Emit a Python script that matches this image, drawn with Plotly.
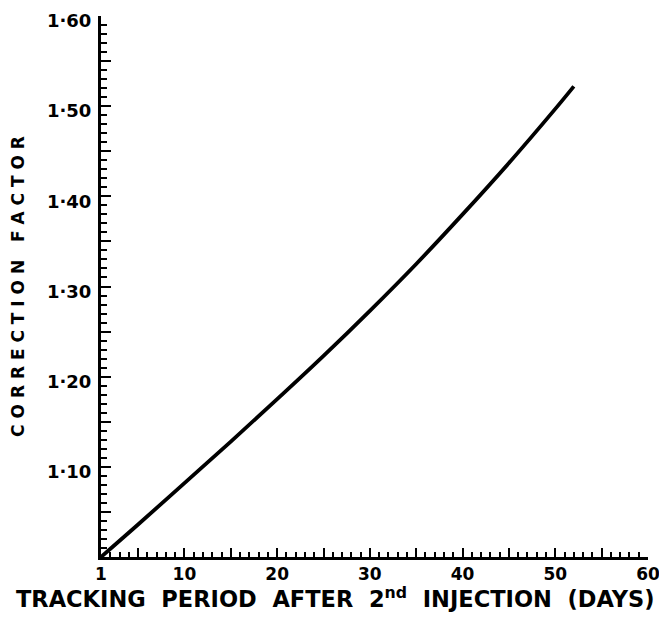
import plotly.graph_objects as go

# Data
days = [1, 5, 10, 15, 20, 25, 30, 35, 40, 45, 50, 52]
correction_factor = [1.000, 1.036, 1.082, 1.128, 1.175, 1.223, 1.273, 1.325, 1.380, 1.437, 1.497, 1.522]

x_tick_vals = [1, 5, 10, 15, 20, 25, 30, 35, 40, 45, 50, 55, 60]
x_tick_text = ["1", "", "10", "", "20", "", "30", "", "40", "", "50", "", "60"]
y_tick_vals = [1.05, 1.10, 1.15, 1.20, 1.25, 1.30, 1.35, 1.40, 1.45, 1.50, 1.55, 1.60]
y_tick_text = ["", "1·10", "", "1·20", "", "1·30", "", "1·40", "", "1·50", "", "1·60"]
x_title = "TRACKING  PERIOD  AFTER  2<sup>nd</sup>  INJECTION  (DAYS)"
y_title = "C O R R E C T I O N   F A C T O R"

FONT = "DejaVu Sans"

fig = go.Figure()
fig.add_trace(go.Scatter(
    x=days, y=correction_factor, mode="lines",
    line=dict(color="black", width=3.8, shape="spline", smoothing=1.0),
    hoverinfo="skip", showlegend=False,
))

# the page body adds an 8px offset, so the figure is 8px smaller and margins compensate
fig.update_layout(
    width=659, height=610,
    margin=dict(l=93, r=19, t=8, b=61),
    paper_bgcolor="white", plot_bgcolor="white",
    font=dict(family=FONT, color="black"),
    xaxis=dict(
        range=[1, 60], showgrid=False, zeroline=False, automargin=False,
        showline=True, linecolor="black", linewidth=3,
        ticks="inside", ticklen=9, tickwidth=2, tickcolor="black",
        tickvals=x_tick_vals, ticktext=x_tick_text, ticklabeloverflow="allow",
        tickfont=dict(family=FONT, size=17, color="black", weight="bold"),
        minor=dict(ticks="inside", ticklen=5, tickwidth=1.5, tickcolor="black", dtick=1, tick0=1),
    ),
    yaxis=dict(
        range=[1.0, 1.6], showgrid=False, zeroline=False, automargin=False,
        showline=True, linecolor="black", linewidth=3,
        ticks="inside", ticklen=10, tickwidth=2, tickcolor="black",
        tickvals=y_tick_vals, ticktext=y_tick_text, ticklabelstandoff=3,
        ticklabelshift=5, ticklabeloverflow="allow",
        tickfont=dict(family=FONT, size=18, color="black", weight="bold"),
        minor=dict(ticks="inside", ticklen=6, tickwidth=1.5, tickcolor="black", dtick=0.01, tick0=1.0),
        title=dict(text=y_title,
                   font=dict(family=FONT, size=17, color="black", weight="bold"), standoff=20),
    ),
    annotations=[dict(
        text=x_title, xref="paper", yref="paper", x=0.428, y=-0.074,
        xanchor="center", yanchor="middle", showarrow=False,
        font=dict(family=FONT, size=22.5, color="black", weight="bold"),
    )],
)

fig.write_html("out.html")
